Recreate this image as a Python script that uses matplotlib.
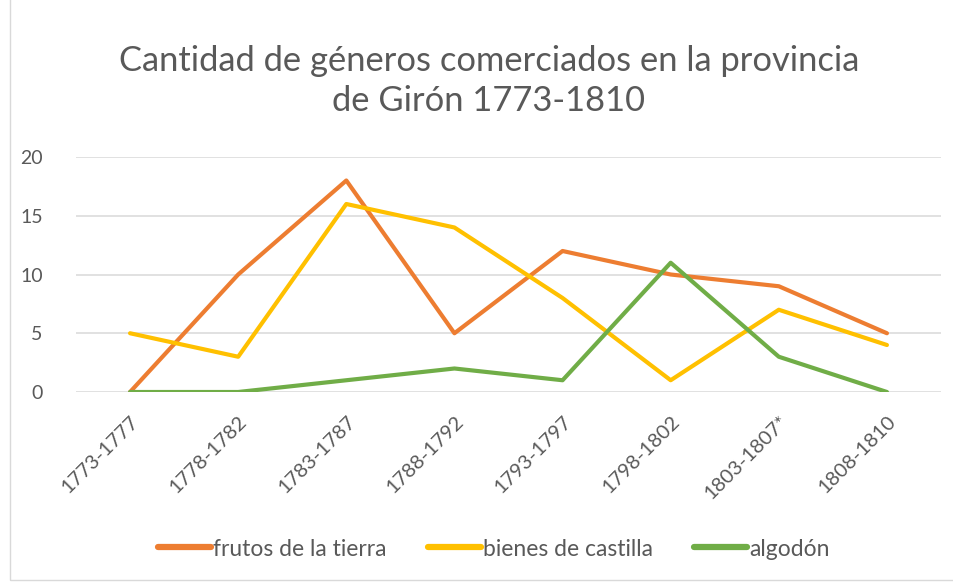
import matplotlib
matplotlib.use("Agg")
import matplotlib.pyplot as plt
from matplotlib.patches import Rectangle

categories = ["1773-1777", "1778-1782", "1783-1787", "1788-1792", "1793-1797",
              "1798-1802", "1803-1807*", "1808-1810"]
frutos = [0, 10, 18, 5, 12, 10, 9, 5]
bienes = [5, 3, 16, 14, 8, 1, 7, 4]
algodon = [0, 0, 1, 2, 1, 11, 3, 0]
series_names = ["frutos de la tierra", "bienes de castilla", "algodón"]
yticks = [0, 5, 10, 15, 20]

plt.rcParams['font.family'] = ['Lato', 'DejaVu Sans']
txt = "#595959"

fig = plt.figure(figsize=(9.54, 5.82), dpi=100)
ax = fig.add_axes([76/954, 1-392/582, (941-76)/954, (392-157)/582])

x = list(range(len(categories)))
colors = ["#ED7D31", "#FFC000", "#70AD47"]
for vals, c, name in zip([frutos, bienes, algodon], colors, series_names):
    ax.plot(x, vals, color=c, lw=3.0, solid_capstyle='round', solid_joinstyle='round', label=name)

ax.set_xlim(-0.5, len(categories) - 0.5)
ax.set_ylim(0, 20)
ax.set_yticks(yticks)
ax.set_yticklabels([str(v) for v in yticks], color=txt, fontsize=14)
ax.yaxis.grid(True, color="#D9D9D9", lw=1.1)
ax.set_axisbelow(True)
ax.set_xticks(x)
ax.set_xticklabels(categories, rotation=45, ha='right', va='top', rotation_mode='anchor',
                   color=txt, fontsize=14.5)
ax.tick_params(axis='both', length=0)
ax.tick_params(axis='x', pad=15)
ax.tick_params(axis='y', pad=24)
for s in ax.spines.values():
    s.set_visible(False)

fig.text(489/954, 1-81/582, "Cantidad de géneros comerciados en la provincia\nde Girón 1773-1810",
         ha='center', va='center', fontsize=24.8, color=txt, linespacing=1.3)

leg = fig.legend(loc='center', bbox_to_anchor=(494/954, 1-549/582), ncol=3, frameon=False,
                 fontsize=16.5, handlelength=2.3, handletextpad=0.1, columnspacing=1.8)
for t in leg.get_texts():
    t.set_color(txt)
for h in leg.legend_handles:
    h.set_linewidth(4.5)
    h.set_solid_capstyle('round')

fig.patches.append(Rectangle((10/954, 0.004), 1, 1.5, transform=fig.transFigure,
                             fill=False, edgecolor="#D9D9D9", lw=1))
fig.savefig("out.png", dpi=100)
